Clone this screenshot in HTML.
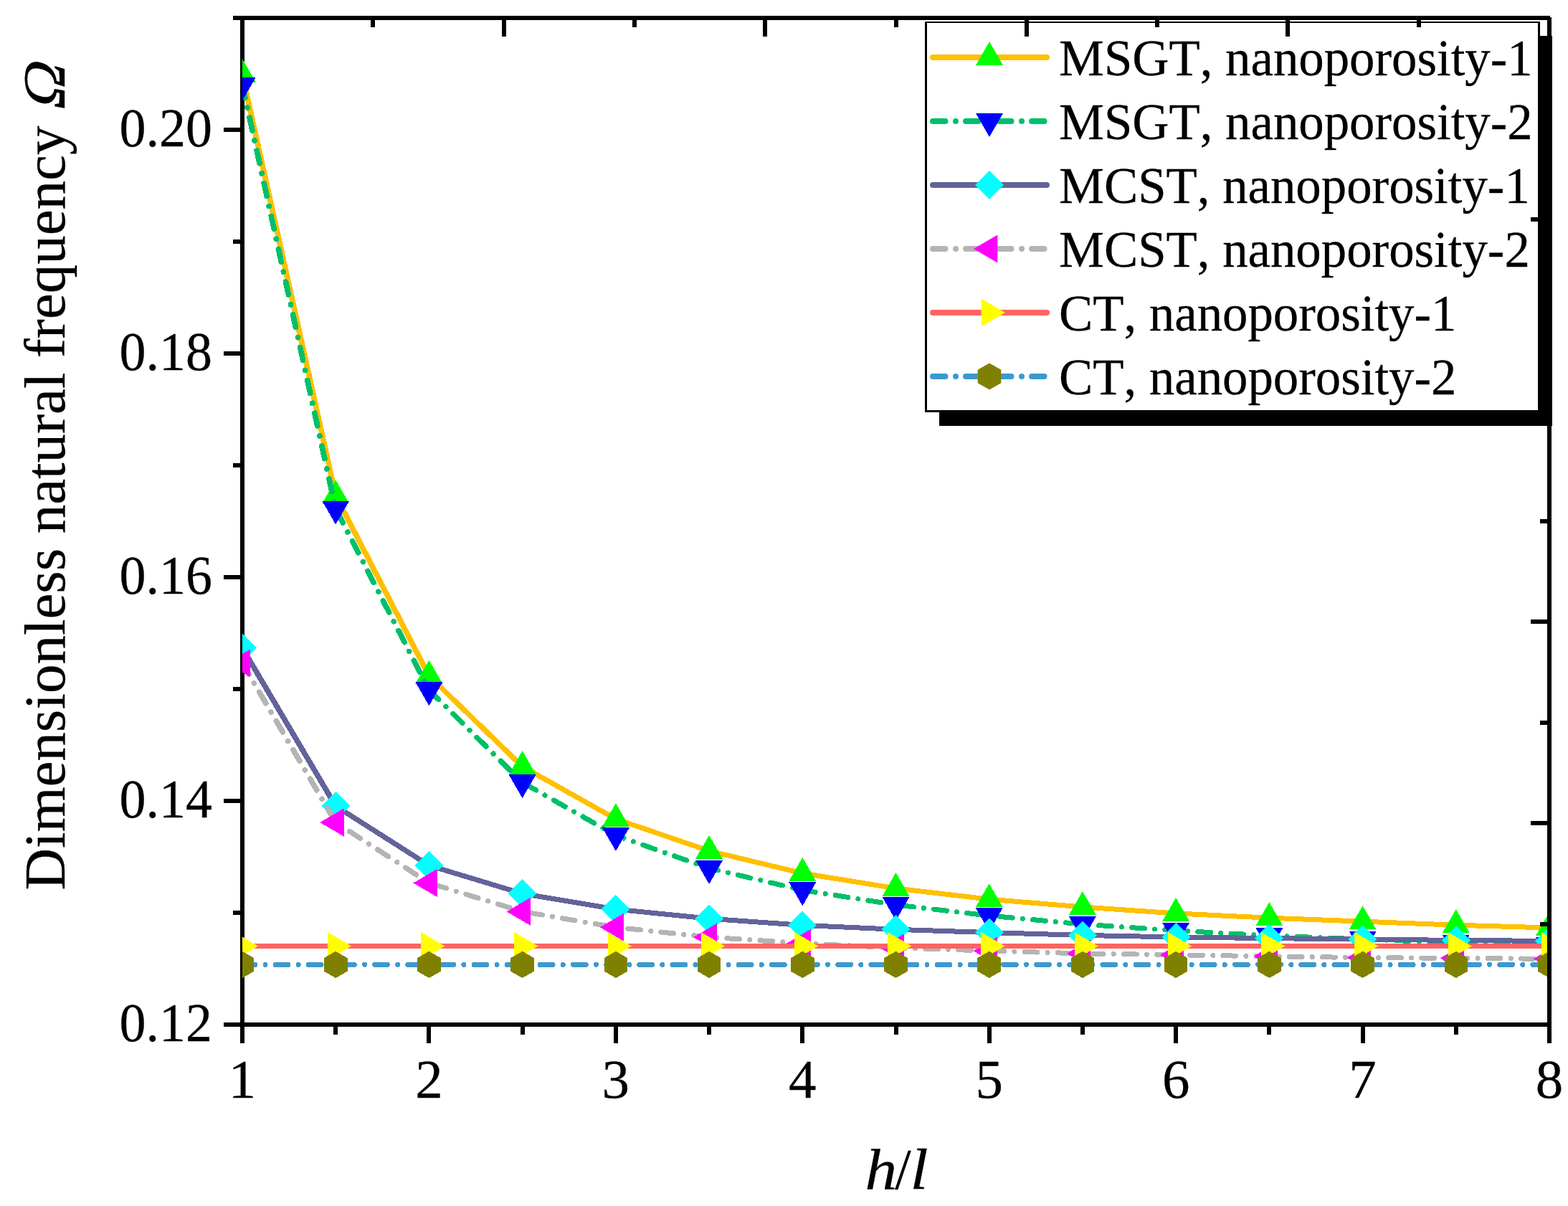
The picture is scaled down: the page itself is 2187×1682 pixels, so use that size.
<!DOCTYPE html>
<html lang="en"><head><meta charset="utf-8"><title>Dimensionless natural frequency vs h/l</title>
<style>
html,body{margin:0;padding:0;background:#fff;}
body{width:2187px;height:1682px;overflow:hidden;}
svg{display:block;}
text{font-family:"Liberation Serif",serif;fill:#000;stroke:#000;stroke-width:0.3px;font-kerning:none;}
.ax{fill:#000;shape-rendering:crispEdges;}
.ln{fill:none;stroke-width:8;stroke-linecap:round;stroke-linejoin:round;}
.dl{fill:none;stroke-width:7;stroke-linecap:round;stroke-linejoin:round;}
</style></head><body>
<svg width="2187" height="1682" viewBox="0 0 2187 1682" role="img" aria-label="Dimensionless natural frequency versus h/l">
<defs>
<clipPath id="plot"><rect x="338" y="20" width="1820" height="1412"/></clipPath>
<polygon id="mU" points="0,-22 19,11 -19,11"/>
<polygon id="mD" points="0,22 19,-11 -19,-11"/>
<polygon id="mL" points="-22,0 11.3,-19.5 11.3,19.5"/>
<polygon id="mR" points="22,0 -11.3,-19.5 -11.3,19.5"/>
<polygon id="mQ" points="0,-20 20,0 0,20 -20,0"/>
<polygon id="mH" points="0,-18.6 16.3,-9.3 16.3,9.3 0,18.6 -16.3,9.3 -16.3,-9.3"/>
</defs>
<rect x="0" y="0" width="2187" height="1682" fill="#fff"/>
<g class="ax">
<rect x="335" y="22" width="6" height="1433"/>
<rect x="312" y="1426" width="1852" height="6"/>
<rect x="325" y="1270" width="11" height="6"/>
<rect x="312" y="1114" width="24" height="6"/>
<rect x="325" y="958" width="11" height="6"/>
<rect x="312" y="802" width="24" height="6"/>
<rect x="325" y="646" width="11" height="6"/>
<rect x="312" y="490" width="24" height="6"/>
<rect x="325" y="334" width="11" height="6"/>
<rect x="312" y="178" width="24" height="6"/>
<rect x="325" y="22" width="11" height="6"/>
<rect x="465" y="1430" width="6" height="13"/>
<rect x="595" y="1430" width="6" height="25"/>
<rect x="726" y="1430" width="6" height="13"/>
<rect x="856" y="1430" width="6" height="25"/>
<rect x="986" y="1430" width="6" height="13"/>
<rect x="1116" y="1430" width="6" height="25"/>
<rect x="1247" y="1430" width="6" height="13"/>
<rect x="1377" y="1430" width="6" height="25"/>
<rect x="1507" y="1430" width="6" height="13"/>
<rect x="1637" y="1430" width="6" height="25"/>
<rect x="1767" y="1430" width="6" height="13"/>
<rect x="1898" y="1430" width="6" height="25"/>
<rect x="2028" y="1430" width="6" height="13"/>
<rect x="2158" y="1430" width="6" height="25"/>
</g>
<g font-size="74" text-anchor="end">
<text transform="translate(296 1451.6) scale(1 1.035)">0.12</text>
<text transform="translate(296 1139.6) scale(1 1.035)">0.14</text>
<text transform="translate(296 827.6) scale(1 1.035)">0.16</text>
<text transform="translate(296 515.6) scale(1 1.035)">0.18</text>
<text transform="translate(296 203.6) scale(1 1.035)">0.20</text>
</g>
<g font-size="74" text-anchor="middle">
<text transform="translate(338 1530.5) scale(1.04 1.035)">1</text>
<text transform="translate(598.429 1530.5) scale(1.04 1.035)">2</text>
<text transform="translate(858.857 1530.5) scale(1.04 1.035)">3</text>
<text transform="translate(1119.29 1530.5) scale(1.04 1.035)">4</text>
<text transform="translate(1379.71 1530.5) scale(1.04 1.035)">5</text>
<text transform="translate(1640.14 1530.5) scale(1.04 1.035)">6</text>
<text transform="translate(1900.57 1530.5) scale(1.04 1.035)">7</text>
<text transform="translate(2161 1530.5) scale(1.04 1.035)">8</text>
</g>
<g font-size="80.5" font-style="italic">
<text transform="translate(1206.6 1658) scale(1.11 1)">h</text>
<text transform="translate(1248.3 1658)" font-style="normal">/</text>
<text transform="translate(1269.6 1658) scale(1.12 1)">l</text>
</g>
<text transform="translate(90 1241.6) rotate(-90)" font-size="81">Dimensionless natural frequency</text>
<text transform="translate(90 156.3) rotate(-90) skewX(-14) scale(1.085 1.03)" font-size="81">Ω</text>
<g clip-path="url(#plot)" shape-rendering="crispEdges">
<g class="dl" stroke="#FFC000">
<line x1="338.0" y1="104.0" x2="468.2" y2="691.3" stroke-width="7.76"/>
<line x1="468.2" y1="691.3" x2="598.4" y2="942.6" stroke-width="7.63"/>
<line x1="598.4" y1="942.6" x2="728.6" y2="1069.1" stroke-width="7.39"/>
<line x1="728.6" y1="1069.1" x2="858.9" y2="1142.2" stroke-width="7.19"/>
<line x1="858.9" y1="1142.2" x2="989.1" y2="1186.8" stroke-width="7.08"/>
<line x1="989.1" y1="1186.8" x2="1119.3" y2="1217.9" stroke-width="7.04"/>
<line x1="1119.3" y1="1217.9" x2="1249.5" y2="1239.0" stroke-width="7.02"/>
<line x1="1249.5" y1="1239.0" x2="1379.7" y2="1254.2" stroke-width="7.01"/>
<line x1="1379.7" y1="1254.2" x2="1509.9" y2="1265.0" stroke-width="7.01"/>
<line x1="1509.9" y1="1265.0" x2="1640.1" y2="1273.9" stroke-width="7.00"/>
<line x1="1640.1" y1="1273.9" x2="1770.4" y2="1280.2" stroke-width="7.00"/>
<line x1="1770.4" y1="1280.2" x2="1900.6" y2="1285.2" stroke-width="7.00"/>
<line x1="1900.6" y1="1285.2" x2="2030.8" y2="1290.2" stroke-width="7.00"/>
<line x1="2030.8" y1="1290.2" x2="2161.0" y2="1294.0" stroke-width="7.00"/>
</g>
<g fill="#00FF00">
<use href="#mU" x="338.0" y="104.0"/>
<use href="#mU" x="468.2" y="691.3"/>
<use href="#mU" x="598.4" y="942.6"/>
<use href="#mU" x="728.6" y="1069.1"/>
<use href="#mU" x="858.9" y="1142.2"/>
<use href="#mU" x="989.1" y="1186.8"/>
<use href="#mU" x="1119.3" y="1217.9"/>
<use href="#mU" x="1249.5" y="1239.0"/>
<use href="#mU" x="1379.7" y="1254.2"/>
<use href="#mU" x="1509.9" y="1265.0"/>
<use href="#mU" x="1640.1" y="1273.9"/>
<use href="#mU" x="1770.4" y="1280.2"/>
<use href="#mU" x="1900.6" y="1285.2"/>
<use href="#mU" x="2030.8" y="1290.2"/>
<use href="#mU" x="2161.0" y="1294.0"/>
</g>
<g class="dl" stroke="#00BF6B">
<line x1="338.0" y1="118.5" x2="468.2" y2="709.5" stroke-width="7.76" stroke-dasharray="18.08 14.42 0.01 14.36" stroke-dashoffset="0.00"/>
<line x1="468.2" y1="709.5" x2="598.4" y2="962.3" stroke-width="7.63" stroke-dasharray="18.05 14.40 0.01 14.34" stroke-dashoffset="42.66"/>
<line x1="598.4" y1="962.3" x2="728.6" y2="1091.3" stroke-width="7.40" stroke-dasharray="18.00 14.36 0.01 14.30" stroke-dashoffset="46.05"/>
<line x1="728.6" y1="1091.3" x2="858.9" y2="1165.1" stroke-width="7.19" stroke-dasharray="17.94 14.31 0.01 14.25" stroke-dashoffset="42.53"/>
<line x1="858.9" y1="1165.1" x2="989.1" y2="1211.0" stroke-width="7.09" stroke-dasharray="17.89 14.28 0.01 14.22" stroke-dashoffset="6.13"/>
<line x1="989.1" y1="1211.0" x2="1119.3" y2="1241.4" stroke-width="7.04" stroke-dasharray="17.86 14.25 0.01 14.19" stroke-dashoffset="5.00"/>
<line x1="1119.3" y1="1241.4" x2="1249.5" y2="1262.0" stroke-width="7.02" stroke-dasharray="17.84 14.24 0.01 14.18" stroke-dashoffset="46.03"/>
<line x1="1249.5" y1="1262.0" x2="1379.7" y2="1277.1" stroke-width="7.01" stroke-dasharray="17.83 14.23 0.01 14.17" stroke-dashoffset="39.04"/>
<line x1="1379.7" y1="1277.1" x2="1509.9" y2="1289.0" stroke-width="7.01" stroke-dasharray="17.83 14.22 0.01 14.16" stroke-dashoffset="31.41"/>
<line x1="1509.9" y1="1289.0" x2="1640.1" y2="1297.9" stroke-width="7.00" stroke-dasharray="17.82 14.22 0.01 14.16" stroke-dashoffset="23.51"/>
<line x1="1640.1" y1="1297.9" x2="1770.4" y2="1305.0" stroke-width="7.00" stroke-dasharray="17.82 14.21 0.01 14.15" stroke-dashoffset="15.42"/>
<line x1="1770.4" y1="1305.0" x2="1900.6" y2="1309.9" stroke-width="7.00" stroke-dasharray="17.81 14.21 0.01 14.15" stroke-dashoffset="7.26"/>
<line x1="1900.6" y1="1309.9" x2="2030.8" y2="1314.8" stroke-width="7.00" stroke-dasharray="17.81 14.21 0.01 14.15" stroke-dashoffset="45.21"/>
<line x1="2030.8" y1="1314.8" x2="2161.0" y2="1318.0" stroke-width="7.00" stroke-dasharray="17.81 14.21 0.01 14.15" stroke-dashoffset="36.97"/>
</g>
<g fill="#0000FF">
<use href="#mD" x="338.0" y="118.5"/>
<use href="#mD" x="468.2" y="709.5"/>
<use href="#mD" x="598.4" y="962.3"/>
<use href="#mD" x="728.6" y="1091.3"/>
<use href="#mD" x="858.9" y="1165.1"/>
<use href="#mD" x="989.1" y="1211.0"/>
<use href="#mD" x="1119.3" y="1241.4"/>
<use href="#mD" x="1249.5" y="1262.0"/>
<use href="#mD" x="1379.7" y="1277.1"/>
<use href="#mD" x="1509.9" y="1289.0"/>
<use href="#mD" x="1640.1" y="1297.9"/>
<use href="#mD" x="1770.4" y="1305.0"/>
<use href="#mD" x="1900.6" y="1309.9"/>
<use href="#mD" x="2030.8" y="1314.8"/>
<use href="#mD" x="2161.0" y="1318.0"/>
</g>
<g class="dl" stroke="#63639B">
<line x1="338.0" y1="903.7" x2="468.2" y2="1124.2" stroke-width="7.59"/>
<line x1="468.2" y1="1124.2" x2="598.4" y2="1207.0" stroke-width="7.23"/>
<line x1="598.4" y1="1207.0" x2="728.6" y2="1246.3" stroke-width="7.07"/>
<line x1="728.6" y1="1246.3" x2="858.9" y2="1268.1" stroke-width="7.02"/>
<line x1="858.9" y1="1268.1" x2="989.1" y2="1281.2" stroke-width="7.01"/>
<line x1="989.1" y1="1281.2" x2="1119.3" y2="1290.4" stroke-width="7.00"/>
<line x1="1119.3" y1="1290.4" x2="1249.5" y2="1296.3" stroke-width="7.00"/>
<line x1="1249.5" y1="1296.3" x2="1379.7" y2="1300.6" stroke-width="7.00"/>
<line x1="1379.7" y1="1300.6" x2="1509.9" y2="1304.4" stroke-width="7.00"/>
<line x1="1509.9" y1="1304.4" x2="1640.1" y2="1307.0" stroke-width="7.00"/>
<line x1="1640.1" y1="1307.0" x2="1770.4" y2="1308.6" stroke-width="7.00"/>
<line x1="1770.4" y1="1308.6" x2="1900.6" y2="1310.1" stroke-width="7.00"/>
<line x1="1900.6" y1="1310.1" x2="2030.8" y2="1311.4" stroke-width="7.00"/>
<line x1="2030.8" y1="1311.4" x2="2161.0" y2="1312.4" stroke-width="7.00"/>
</g>
<g fill="#00FFFF">
<use href="#mQ" x="338.0" y="903.7"/>
<use href="#mQ" x="468.2" y="1124.2"/>
<use href="#mQ" x="598.4" y="1207.0"/>
<use href="#mQ" x="728.6" y="1246.3"/>
<use href="#mQ" x="858.9" y="1268.1"/>
<use href="#mQ" x="989.1" y="1281.2"/>
<use href="#mQ" x="1119.3" y="1290.4"/>
<use href="#mQ" x="1249.5" y="1296.3"/>
<use href="#mQ" x="1379.7" y="1300.6"/>
<use href="#mQ" x="1509.9" y="1304.4"/>
<use href="#mQ" x="1640.1" y="1307.0"/>
<use href="#mQ" x="1770.4" y="1308.6"/>
<use href="#mQ" x="1900.6" y="1310.1"/>
<use href="#mQ" x="2030.8" y="1311.4"/>
<use href="#mQ" x="2161.0" y="1312.4"/>
</g>
<g class="dl" stroke="#B4B4B4">
<line x1="338.0" y1="924.8" x2="468.2" y2="1147.0" stroke-width="7.60" stroke-dasharray="18.05 14.40 0.01 14.34" stroke-dashoffset="0.00"/>
<line x1="468.2" y1="1147.0" x2="598.4" y2="1231.5" stroke-width="7.24" stroke-dasharray="17.96 14.32 0.01 14.26" stroke-dashoffset="23.49"/>
<line x1="598.4" y1="1231.5" x2="728.6" y2="1271.4" stroke-width="7.07" stroke-dasharray="17.88 14.27 0.01 14.21" stroke-dashoffset="38.91"/>
<line x1="728.6" y1="1271.4" x2="858.9" y2="1293.3" stroke-width="7.02" stroke-dasharray="17.85 14.24 0.01 14.18" stroke-dashoffset="35.93"/>
<line x1="858.9" y1="1293.3" x2="989.1" y2="1307.1" stroke-width="7.01" stroke-dasharray="17.83 14.22 0.01 14.16" stroke-dashoffset="29.12"/>
<line x1="989.1" y1="1307.1" x2="1119.3" y2="1315.6" stroke-width="7.00" stroke-dasharray="17.82 14.21 0.01 14.15" stroke-dashoffset="21.37"/>
<line x1="1119.3" y1="1315.6" x2="1249.5" y2="1322.0" stroke-width="7.00" stroke-dasharray="17.81 14.21 0.01 14.15" stroke-dashoffset="13.26"/>
<line x1="1249.5" y1="1322.0" x2="1379.7" y2="1326.1" stroke-width="7.00" stroke-dasharray="17.81 14.21 0.01 14.15" stroke-dashoffset="5.07"/>
<line x1="1379.7" y1="1326.1" x2="1509.9" y2="1329.9" stroke-width="7.00" stroke-dasharray="17.81 14.21 0.01 14.15" stroke-dashoffset="43.00"/>
<line x1="1509.9" y1="1329.9" x2="1640.1" y2="1331.8" stroke-width="7.00" stroke-dasharray="17.80 14.20 0.01 14.14" stroke-dashoffset="34.75"/>
<line x1="1640.1" y1="1331.8" x2="1770.4" y2="1333.8" stroke-width="7.00" stroke-dasharray="17.80 14.20 0.01 14.14" stroke-dashoffset="26.50"/>
<line x1="1770.4" y1="1333.8" x2="1900.6" y2="1335.6" stroke-width="7.00" stroke-dasharray="17.80 14.20 0.01 14.14" stroke-dashoffset="18.24"/>
<line x1="1900.6" y1="1335.6" x2="2030.8" y2="1336.3" stroke-width="7.00" stroke-dasharray="17.80 14.20 0.01 14.14" stroke-dashoffset="9.99"/>
<line x1="2030.8" y1="1336.3" x2="2161.0" y2="1337.3" stroke-width="7.00" stroke-dasharray="17.80 14.20 0.01 14.14" stroke-dashoffset="1.74"/>
</g>
<g fill="#FF00FF">
<use href="#mL" x="338.0" y="924.8"/>
<use href="#mL" x="468.2" y="1147.0"/>
<use href="#mL" x="598.4" y="1231.5"/>
<use href="#mL" x="728.6" y="1271.4"/>
<use href="#mL" x="858.9" y="1293.3"/>
<use href="#mL" x="989.1" y="1307.1"/>
<use href="#mL" x="1119.3" y="1315.6"/>
<use href="#mL" x="1249.5" y="1322.0"/>
<use href="#mL" x="1379.7" y="1326.1"/>
<use href="#mL" x="1509.9" y="1329.9"/>
<use href="#mL" x="1640.1" y="1331.8"/>
<use href="#mL" x="1770.4" y="1333.8"/>
<use href="#mL" x="1900.6" y="1335.6"/>
<use href="#mL" x="2030.8" y="1336.3"/>
<use href="#mL" x="2161.0" y="1337.3"/>
</g>
<g class="dl" stroke="#FF6464">
<line x1="338.0" y1="1319.5" x2="468.2" y2="1319.5" stroke-width="7.00"/>
<line x1="468.2" y1="1319.5" x2="598.4" y2="1319.5" stroke-width="7.00"/>
<line x1="598.4" y1="1319.5" x2="728.6" y2="1319.5" stroke-width="7.00"/>
<line x1="728.6" y1="1319.5" x2="858.9" y2="1319.5" stroke-width="7.00"/>
<line x1="858.9" y1="1319.5" x2="989.1" y2="1319.5" stroke-width="7.00"/>
<line x1="989.1" y1="1319.5" x2="1119.3" y2="1319.5" stroke-width="7.00"/>
<line x1="1119.3" y1="1319.5" x2="1249.5" y2="1319.5" stroke-width="7.00"/>
<line x1="1249.5" y1="1319.5" x2="1379.7" y2="1319.5" stroke-width="7.00"/>
<line x1="1379.7" y1="1319.5" x2="1509.9" y2="1319.5" stroke-width="7.00"/>
<line x1="1509.9" y1="1319.5" x2="1640.1" y2="1319.5" stroke-width="7.00"/>
<line x1="1640.1" y1="1319.5" x2="1770.4" y2="1319.5" stroke-width="7.00"/>
<line x1="1770.4" y1="1319.5" x2="1900.6" y2="1319.5" stroke-width="7.00"/>
<line x1="1900.6" y1="1319.5" x2="2030.8" y2="1319.5" stroke-width="7.00"/>
<line x1="2030.8" y1="1319.5" x2="2161.0" y2="1319.5" stroke-width="7.00"/>
</g>
<g fill="#FFFF00">
<use href="#mR" x="338.0" y="1319.5"/>
<use href="#mR" x="468.2" y="1319.5"/>
<use href="#mR" x="598.4" y="1319.5"/>
<use href="#mR" x="728.6" y="1319.5"/>
<use href="#mR" x="858.9" y="1319.5"/>
<use href="#mR" x="989.1" y="1319.5"/>
<use href="#mR" x="1119.3" y="1319.5"/>
<use href="#mR" x="1249.5" y="1319.5"/>
<use href="#mR" x="1379.7" y="1319.5"/>
<use href="#mR" x="1509.9" y="1319.5"/>
<use href="#mR" x="1640.1" y="1319.5"/>
<use href="#mR" x="1770.4" y="1319.5"/>
<use href="#mR" x="1900.6" y="1319.5"/>
<use href="#mR" x="2030.8" y="1319.5"/>
<use href="#mR" x="2161.0" y="1319.5"/>
</g>
<g class="dl" stroke="#3D99CF">
<line x1="338.0" y1="1345.4" x2="468.2" y2="1345.4" stroke-width="7.00" stroke-dasharray="17.80 14.20 0.01 14.14" stroke-dashoffset="0.00"/>
<line x1="468.2" y1="1345.4" x2="598.4" y2="1345.4" stroke-width="7.00" stroke-dasharray="17.80 14.20 0.01 14.14" stroke-dashoffset="37.91"/>
<line x1="598.4" y1="1345.4" x2="728.6" y2="1345.4" stroke-width="7.00" stroke-dasharray="17.80 14.20 0.01 14.14" stroke-dashoffset="29.68"/>
<line x1="728.6" y1="1345.4" x2="858.9" y2="1345.4" stroke-width="7.00" stroke-dasharray="17.80 14.20 0.01 14.14" stroke-dashoffset="21.44"/>
<line x1="858.9" y1="1345.4" x2="989.1" y2="1345.4" stroke-width="7.00" stroke-dasharray="17.80 14.20 0.01 14.14" stroke-dashoffset="13.21"/>
<line x1="989.1" y1="1345.4" x2="1119.3" y2="1345.4" stroke-width="7.00" stroke-dasharray="17.80 14.20 0.01 14.14" stroke-dashoffset="4.97"/>
<line x1="1119.3" y1="1345.4" x2="1249.5" y2="1345.4" stroke-width="7.00" stroke-dasharray="17.80 14.20 0.01 14.14" stroke-dashoffset="42.89"/>
<line x1="1249.5" y1="1345.4" x2="1379.7" y2="1345.4" stroke-width="7.00" stroke-dasharray="17.80 14.20 0.01 14.14" stroke-dashoffset="34.65"/>
<line x1="1379.7" y1="1345.4" x2="1509.9" y2="1345.4" stroke-width="7.00" stroke-dasharray="17.80 14.20 0.01 14.14" stroke-dashoffset="26.41"/>
<line x1="1509.9" y1="1345.4" x2="1640.1" y2="1345.4" stroke-width="7.00" stroke-dasharray="17.80 14.20 0.01 14.14" stroke-dashoffset="18.18"/>
<line x1="1640.1" y1="1345.4" x2="1770.4" y2="1345.4" stroke-width="7.00" stroke-dasharray="17.80 14.20 0.01 14.14" stroke-dashoffset="9.94"/>
<line x1="1770.4" y1="1345.4" x2="1900.6" y2="1345.4" stroke-width="7.00" stroke-dasharray="17.80 14.20 0.01 14.14" stroke-dashoffset="1.71"/>
<line x1="1900.6" y1="1345.4" x2="2030.8" y2="1345.4" stroke-width="7.00" stroke-dasharray="17.80 14.20 0.01 14.14" stroke-dashoffset="39.62"/>
<line x1="2030.8" y1="1345.4" x2="2161.0" y2="1345.4" stroke-width="7.00" stroke-dasharray="17.80 14.20 0.01 14.14" stroke-dashoffset="31.39"/>
</g>
<g fill="#808000">
<use href="#mH" x="338.0" y="1345.4"/>
<use href="#mH" x="468.2" y="1345.4"/>
<use href="#mH" x="598.4" y="1345.4"/>
<use href="#mH" x="728.6" y="1345.4"/>
<use href="#mH" x="858.9" y="1345.4"/>
<use href="#mH" x="989.1" y="1345.4"/>
<use href="#mH" x="1119.3" y="1345.4"/>
<use href="#mH" x="1249.5" y="1345.4"/>
<use href="#mH" x="1379.7" y="1345.4"/>
<use href="#mH" x="1509.9" y="1345.4"/>
<use href="#mH" x="1640.1" y="1345.4"/>
<use href="#mH" x="1770.4" y="1345.4"/>
<use href="#mH" x="1900.6" y="1345.4"/>
<use href="#mH" x="2030.8" y="1345.4"/>
<use href="#mH" x="2161.0" y="1345.4"/>
</g>
</g>
<g class="ax">
<rect x="2147" y="50" width="18" height="544"/>
<rect x="1310" y="574" width="855" height="20"/>
</g>
<rect x="1290" y="30" width="858" height="545" class="ax"/>
<rect x="1293" y="32" width="852" height="540" fill="#fff" shape-rendering="crispEdges"/>
<line class="ln" x1="1301" y1="80" x2="1460" y2="80" stroke="#FFC000"/>
<use href="#mU" x="1380" y="80" fill="#00FF00"/>
<text transform="translate(1477 105) scale(1 1.03)" font-size="70.8">MSGT, nanoporosity-1</text>
<line class="ln" x1="1301" y1="169" x2="1460" y2="169" stroke="#00BF6B" stroke-dasharray="17.5 14.5 0.01 14"/>
<use href="#mD" x="1380" y="169" fill="#0000FF"/>
<text transform="translate(1477 194) scale(1 1.03)" font-size="70.8">MSGT, nanoporosity-2</text>
<line class="ln" x1="1301" y1="258" x2="1460" y2="258" stroke="#63639B"/>
<use href="#mQ" x="1380" y="258" fill="#00FFFF"/>
<text transform="translate(1477 283) scale(1 1.03)" font-size="70.8">MCST, nanoporosity-1</text>
<line class="ln" x1="1301" y1="347" x2="1460" y2="347" stroke="#B4B4B4" stroke-dasharray="17.5 14.5 0.01 14"/>
<use href="#mL" x="1380" y="347" fill="#FF00FF"/>
<text transform="translate(1477 372) scale(1 1.03)" font-size="70.8">MCST, nanoporosity-2</text>
<line class="ln" x1="1301" y1="436" x2="1460" y2="436" stroke="#FF6464"/>
<use href="#mR" x="1380" y="436" fill="#FFFF00"/>
<text transform="translate(1477 461) scale(1 1.03)" font-size="70.8">CT, nanoporosity-1</text>
<line class="ln" x1="1301" y1="525" x2="1460" y2="525" stroke="#3D99CF" stroke-dasharray="17.5 14.5 0.01 14"/>
<use href="#mH" x="1380" y="525" fill="#808000"/>
<text transform="translate(1477 550) scale(1 1.03)" font-size="70.8">CT, nanoporosity-2</text>
<g class="ax">
<rect x="325" y="22" width="1837" height="6"/>
<rect x="2158" y="24" width="6" height="1431"/>
<rect x="517" y="28" width="6" height="10"/>
<rect x="700" y="28" width="6" height="23"/>
<rect x="882" y="28" width="6" height="10"/>
<rect x="1064" y="28" width="6" height="23"/>
<rect x="1247" y="28" width="6" height="10"/>
<rect x="1429" y="28" width="6" height="23"/>
<rect x="1611" y="28" width="6" height="10"/>
<rect x="1793" y="28" width="6" height="23"/>
<rect x="1976" y="28" width="6" height="10"/>
<rect x="2148" y="162" width="10" height="6"/>
<rect x="2135" y="303" width="23" height="6"/>
<rect x="2148" y="443" width="10" height="6"/>
<rect x="2135" y="584" width="23" height="6"/>
<rect x="2148" y="724" width="10" height="6"/>
<rect x="2135" y="864" width="23" height="6"/>
<rect x="2148" y="1005" width="10" height="6"/>
<rect x="2135" y="1145" width="23" height="6"/>
<rect x="2148" y="1286" width="10" height="6"/>
</g>
</svg>
</body></html>
